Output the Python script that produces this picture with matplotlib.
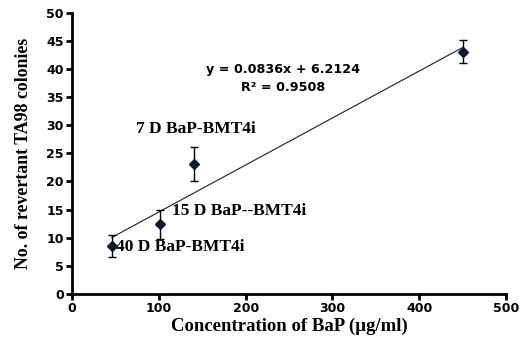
import matplotlib.pyplot as plt
import numpy as np

# data
conc = [46, 101, 141, 450]
colonies = [8.5, 12.4, 23.1, 43.1]
err = [1.9, 2.6, 3.0, 2.0]
labels = ["40 D BaP-BMT4i", "15 D BaP--BMT4i", "7 D BaP-BMT4i"]
label_pos = [(51, 8.4), (115, 14.8), (143, 29.4)]
label_ha = ["left", "left", "center"]
slope, intercept = 0.0836, 6.2124

fig = plt.figure(figsize=(5.26, 3.47), dpi=100)
ax = fig.add_axes([0.137, 0.153, 0.825, 0.81])

# trend line
xs = np.array([conc[0], conc[-1]])
ax.plot(xs, slope*xs + intercept, color='#333333', lw=0.9, zorder=1)

ax.errorbar(conc, colonies, yerr=err, fmt='D', color='#0d1a33', ms=5.5,
            ecolor='black', elinewidth=1.0, capsize=3, capthick=1.0, zorder=3)

serif = 'Liberation Serif'
for txt, (x, y), ha in zip(labels, label_pos, label_ha):
    ax.text(x, y, txt, fontsize=12.5, fontweight='bold', family=serif,
            ha=ha, va='center')

ax.text(243, 39.9, "y = 0.0836x + 6.2124", fontsize=9.2, fontweight='bold',
        ha='center', va='center')
ax.text(243, 36.7, "R\u00b2 = 0.9508", fontsize=9.2, fontweight='bold',
        ha='center', va='center')

ax.set_xlim(0, 500)
ax.set_ylim(0, 50)
ax.set_xticks(range(0, 501, 100))
ax.set_yticks(range(0, 51, 5))
for lab in ax.get_xticklabels() + ax.get_yticklabels():
    lab.set_fontweight('bold')
    lab.set_fontsize(9)
ax.spines['top'].set_visible(False)
ax.spines['right'].set_visible(False)
ax.spines['left'].set_linewidth(2)
ax.spines['bottom'].set_linewidth(2)
ax.tick_params(direction='out', width=2, length=4, pad=2)

ax.set_xlabel("Concentration of BaP (\u00b5g/ml)", fontsize=13.5,
              fontweight='bold', family=serif, labelpad=2)
ax.set_ylabel("No. of revertant TA98 colonies", fontsize=12.8,
              fontweight='bold', family=serif, labelpad=10)

plt.savefig("out.png", dpi=100)
